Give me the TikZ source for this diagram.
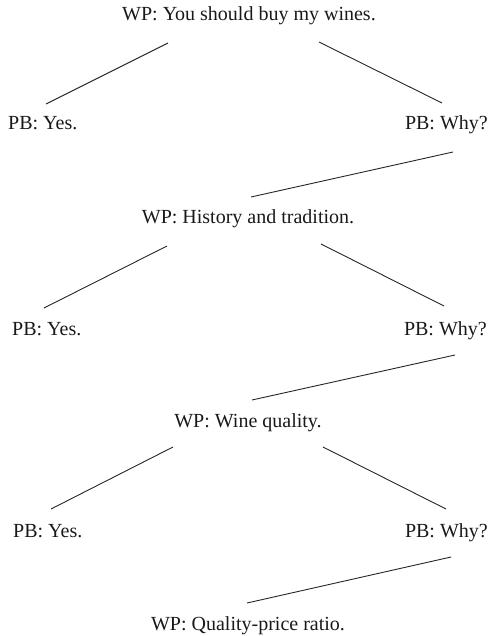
\documentclass[tikz,border=0pt]{standalone}
\usepackage{fontspec}
\setmainfont{Liberation Serif}
\usetikzlibrary{calc}
\begin{document}
\begin{tikzpicture}[x=1pt,y=-1pt,
  lbl/.style={inner sep=0pt,font=\fontsize{20}{24}\selectfont,text=black!90},
  conn/.style={line width=0.9pt,draw=black!85}]
\useasboundingbox (0,0) rectangle (489,636);
% level 1
\node[lbl,anchor=base] (t1) at (249,21) {WP: You should buy my wines.};
\node[lbl,anchor=base west] (y1) at (8,130) {PB: Yes.};
\node[lbl,anchor=base east] (w1) at (488,130) {PB: Why?};
% level 2
\node[lbl,anchor=base] (t2) at (248,223) {WP: History and tradition.};
\node[lbl,anchor=base west] (y2) at (12,335) {PB: Yes.};
\node[lbl,anchor=base east] (w2) at (487,335) {PB: Why?};
% level 3
\node[lbl,anchor=base] (t3) at (248,427) {WP: Wine quality.};
\node[lbl,anchor=base west] (y3) at (13,537) {PB: Yes.};
\node[lbl,anchor=base east] (w3) at (488,537) {PB: Why?};
% level 4
\node[lbl,anchor=base] (t4) at (248,630) {WP: Quality-price ratio.};
% connectors
\draw[conn] ($(t1.base)+(-81,22)$) -- ($(y1.base west)+(38,-26)$);
\draw[conn] ($(t1.base)+(70,21)$) -- ($(w1.base east)+(-46,-27)$);
\draw[conn] ($(w1.base east)+(-35,22)$) -- ($(t2.base)+(3,-26)$);
\draw[conn] ($(t2.base)+(-81,23)$) -- ($(y2.base west)+(32,-27)$);
\draw[conn] ($(t2.base)+(73,21)$) -- ($(w2.base east)+(-43,-29)$);
\draw[conn] ($(w2.base east)+(-32,20)$) -- ($(t3.base)+(4,-27)$);
\draw[conn] ($(t3.base)+(-75,20)$) -- ($(y3.base west)+(38,-28)$);
\draw[conn] ($(t3.base)+(75,20)$) -- ($(w3.base east)+(-42,-28)$);
\draw[conn] ($(w3.base east)+(-37,20)$) -- ($(t4.base)+(-1,-27)$);
\end{tikzpicture}
\end{document}
